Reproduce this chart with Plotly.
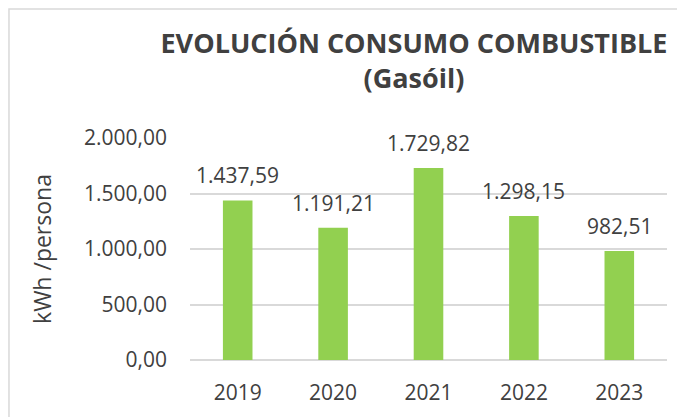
import plotly.graph_objects as go

years = ["2019", "2020", "2021", "2022", "2023"]
consumo = [1437.59, 1191.21, 1729.82, 1298.15, 982.51]
title_lines = ["EVOLUCIÓN CONSUMO COMBUSTIBLE", "(Gasóil)"]
y_title = "kWh /persona"

FONT = "Open Sans"
TXT = "#404040"


def es_num(v):
    return f"{v:,.2f}".replace(",", "X").replace(".", ",").replace("X", ".")


fig = go.Figure(go.Bar(
    x=years, y=consumo,
    marker=dict(color="#92D050", line=dict(width=0)),
    width=0.31,
    hoverinfo="x+y",
))

# category axis: annotations addressed by category index
for i, v in enumerate(consumo):
    fig.add_annotation(
        x=i, y=v, text=es_num(v),
        showarrow=False, yanchor="bottom", yshift=9,
        font=dict(family=FONT, size=21, color=TXT),
    )

fig.update_layout(
    width=677, height=409,
    margin=dict(l=182, r=18, t=130, b=57, autoexpand=False),
    paper_bgcolor="white", plot_bgcolor="white",
    separators=",.",
    showlegend=False,
    font=dict(family=FONT, color=TXT),
    title=dict(
        text="<b>" + "<br>".join(title_lines) + "</b>",
        font=dict(family=FONT, size=27, color=TXT),
        x=0.5997, xanchor="center", y=0.89, yanchor="top",
    ),
    xaxis=dict(
        type="category", range=[-0.5, len(years) - 0.5],
        showgrid=False, showline=False, ticks="", automargin=False,
        ticklabelstandoff=18,
        tickfont=dict(family=FONT, size=21, color=TXT),
    ),
    yaxis=dict(
        range=[0, 2000], dtick=500, tickformat=",.2f", automargin=False,
        showgrid=True, gridcolor="#D9D9D9", gridwidth=1.5,
        zeroline=True, zerolinecolor="#D9D9D9", zerolinewidth=1.5,
        showline=False, ticks="", ticklen=0, ticklabelstandoff=22,
        tickfont=dict(family=FONT, size=21, color=TXT),
        title=dict(text=y_title, font=dict(family=FONT, size=23, color=TXT), standoff=25),
    ),
    shapes=[dict(
        type="rect", xref="paper", yref="paper",
        x0=-0.3795, x1=1.2, y0=-0.5, y1=1.581,
        line=dict(color="#D9D9D9", width=1.5), fillcolor="rgba(0,0,0,0)",
    )],
)

fig.write_html("out.html")
